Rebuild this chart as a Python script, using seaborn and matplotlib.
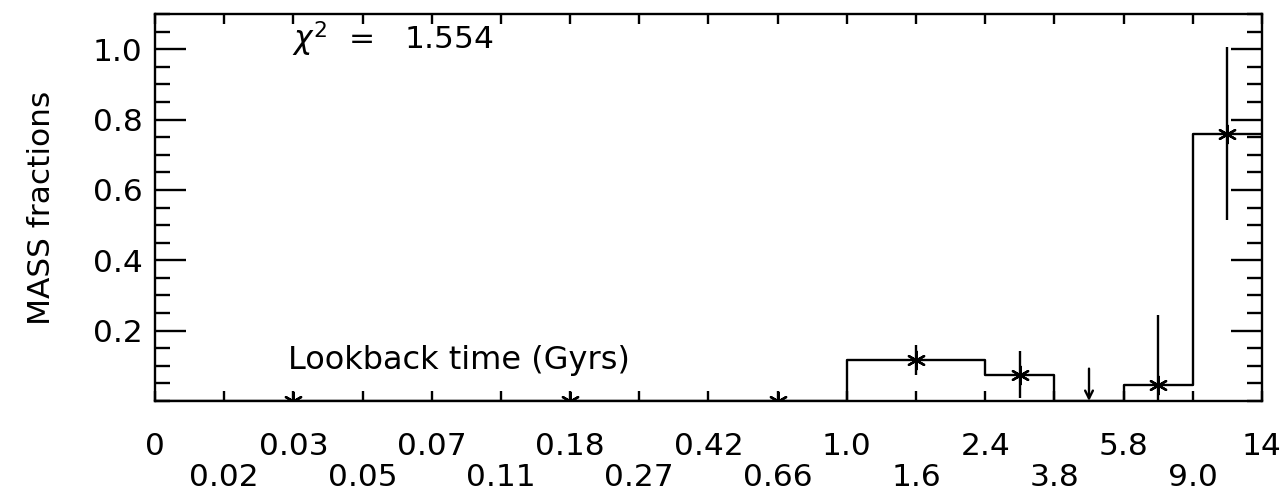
import numpy as np
import pandas as pd
import matplotlib
matplotlib.use("Agg")
import matplotlib.pyplot as plt
import seaborn as sns
from matplotlib.ticker import MultipleLocator

# ---- data (x in age-bin index units) ----
tick_labels = ["0", "0.02", "0.03", "0.05", "0.07", "0.11", "0.18", "0.27",
               "0.42", "0.66", "1.0", "1.6", "2.4", "3.8", "5.8", "9.0", "14"]
bin_edges = [0, 4, 8, 10, 12, 13, 14, 15, 16]
mass_frac = [0.0, 0.0, 0.0, 0.116, 0.075, 0.0, 0.045, 0.76]
mass_err = [0.0, 0.0, 0.0, 0.043, 0.066, np.nan, 0.20, 0.246]
is_upper_limit = [False, False, False, False, False, True, False, False]
upper_limit_val = [np.nan, np.nan, np.nan, np.nan, np.nan, 0.092, np.nan, np.nan]
chi2 = 1.554

sns.set_theme(style="ticks")
plt.rcParams["font.family"] = ["DejaVu Sans"]
plt.rcParams["text.color"] = "black"
plt.rcParams["axes.labelcolor"] = "black"
plt.rcParams["xtick.color"] = "black"
plt.rcParams["ytick.color"] = "black"
plt.rcParams["mathtext.fontset"] = "dejavusans"

fig = plt.figure(figsize=(12.88, 5.0), dpi=100)
ax = fig.add_axes([0.1203, 0.198, 0.9798 - 0.1203, 0.972 - 0.198])

lw = 1.7
fs = 22.5

# step histogram
step_df = pd.DataFrame({"x": bin_edges, "y": mass_frac + [mass_frac[-1]]})
ax.step(step_df["x"], step_df["y"], where="post", color="black", lw=lw)

centers = [(bin_edges[i] + bin_edges[i + 1]) / 2 for i in range(len(mass_frac))]
pts = pd.DataFrame({"x": centers, "y": mass_frac, "err": mass_err, "ul": is_upper_limit})
det = pts[~pts["ul"]]

# error bars
ax.errorbar(det["x"], det["y"], yerr=det["err"].fillna(0), fmt="none",
            ecolor="black", elinewidth=lw, capsize=0, clip_on=True)
# asterisk markers
sns.scatterplot(data=det, x="x", y="y", marker=(6, 2, 0), s=160,
                color="black", linewidth=1.7, ax=ax, clip_on=True, zorder=5)

# upper limit arrow
for xc, ul, v in zip(centers, is_upper_limit, upper_limit_val):
    if ul:
        ax.annotate("", xy=(xc, 0.0), xytext=(xc, v),
                    arrowprops=dict(arrowstyle="->", lw=lw, color="black",
                                    shrinkA=0, shrinkB=0, mutation_scale=14))

ax.set_xlim(0, 16)
ax.set_ylim(0, 1.1)
ax.set_xticks(range(17))
labs = [l if i % 2 == 0 else "\n" + l for i, l in enumerate(tick_labels)]
ax.set_xticklabels(labs, fontsize=fs, linespacing=1.12)
ax.set_yticks([0.2, 0.4, 0.6, 0.8, 1.0])
ax.set_yticklabels(["0.2", "0.4", "0.6", "0.8", "1.0"], fontsize=fs)
ax.yaxis.set_minor_locator(MultipleLocator(0.05))

ax.tick_params(axis="x", which="major", direction="in", length=7, width=lw,
               top=True, bottom=True, pad=22, colors="black")
ax.tick_params(axis="y", which="major", direction="in", length=22, width=lw,
               left=True, right=True, pad=9, colors="black")
ax.tick_params(axis="y", which="minor", direction="in", length=11, width=lw,
               left=True, right=True)
for s in ax.spines.values():
    s.set_linewidth(lw)
    s.set_color("black")

ax.set_xlabel("")
ax.set_ylabel("MASS fractions", fontsize=fs, labelpad=26)

ax.text(1.92, 0.114, "Lookback time (Gyrs)", fontsize=fs + 0.5, ha="left", va="center")
ax.text(1.98, 1.0, r"$\chi^2$  =   " + f"{chi2:.3f}", fontsize=fs, ha="left", va="baseline")

fig.savefig("out.png", dpi=100, facecolor="white")
